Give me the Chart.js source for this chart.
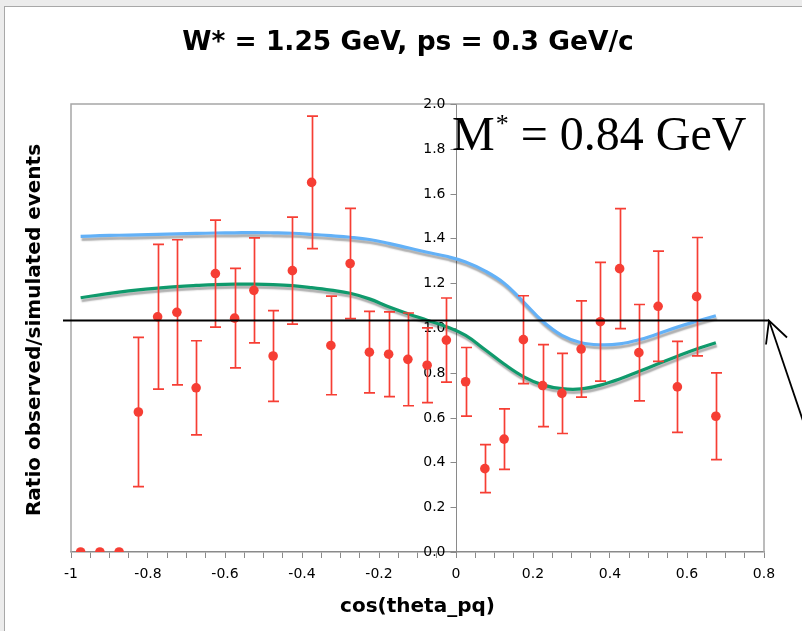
<!DOCTYPE html>
<html><head><meta charset="utf-8">
<script src="https://cdn.jsdelivr.net/npm/chart.js@4.4.1/dist/chart.umd.min.js"></script>
<style>
html,body{margin:0;padding:0;width:802px;height:631px;overflow:hidden;background:#ececec;}
#panel{position:absolute;left:4px;top:6px;width:900px;height:700px;background:#fff;border:1px solid #a8a8a8;}
#wrap{position:absolute;left:0;top:0;width:802px;height:631px;}
</style></head><body>
<div id="panel"></div>
<div id="wrap"><canvas id="c" width="802" height="631"></canvas></div>
<script>
// ---- data ----
const cosTheta = [-0.975,-0.925,-0.875,-0.825,-0.775,-0.725,-0.675,-0.625,-0.575,-0.525,-0.475,-0.425,-0.375,-0.325,-0.275,-0.225,-0.175,-0.125,-0.075,-0.025,0.025,0.075,0.125,0.175,0.225,0.275,0.325,0.375,0.425,0.475,0.525,0.575,0.625,0.675];
const ratio = [0,0,0,0.625,1.05,1.07,0.733,1.243,1.044,1.168,0.875,1.256,1.65,0.922,1.288,0.892,0.883,0.86,0.834,0.946,0.76,0.372,0.504,0.948,0.743,0.708,0.906,1.028,1.265,0.89,1.097,0.737,1.14,0.606];
const ratioErr = [0,0,0,0.333,0.323,0.324,0.21,0.239,0.222,0.234,0.203,0.239,0.296,0.22,0.246,0.182,0.189,0.207,0.167,0.188,0.153,0.107,0.135,0.196,0.183,0.179,0.215,0.265,0.268,0.215,0.246,0.203,0.264,0.194];
const modelBlue = [1.409,1.412,1.414,1.416,1.418,1.42,1.422,1.424,1.425,1.426,1.425,1.423,1.418,1.412,1.405,1.395,1.378,1.358,1.338,1.32,1.295,1.255,1.20,1.117,1.03,0.967,0.934,0.925,0.929,0.947,0.974,1.004,1.03,1.055];
const modelGreen = [1.135,1.148,1.16,1.17,1.178,1.185,1.19,1.194,1.196,1.196,1.194,1.189,1.18,1.169,1.155,1.13,1.095,1.064,1.035,1.006,0.967,0.904,0.839,0.783,0.746,0.729,0.728,0.745,0.772,0.806,0.84,0.874,0.906,0.934];
const xLabelValues = [-1,-0.8,-0.6,-0.4,-0.2,0,0.2,0.4,0.6,0.8];
const xTickLabels = ['-1','-0.8','-0.6','-0.4','-0.2','0','0.2','0.4','0.6','0.8'];
const yLabelValues = [0,0.2,0.4,0.6,0.8,1.0,1.2,1.4,1.6,1.8,2.0];
const yTickLabels = ['0.0','0.2','0.4','0.6','0.8','1.0','1.2','1.4','1.6','1.8','2.0'];
const titleText = 'W* = 1.25 GeV, ps = 0.3 GeV/c';
const yTitle = 'Ratio observed/simulated events';
const xTitle = 'cos(theta_pq)';
const refLineValue = 1.035;

const RED = 'rgb(246,62,52)';
const FONT = '"DejaVu Sans", Verdana, sans-serif';

function pts(ys){ return cosTheta.map((x,i)=>({x:x,y:ys[i]})); }

const errorBars = {
  id:'errorBars',
  beforeDatasetDraw(chart, args){
    if(args.index!==0) return;
    const {ctx, scales:{x,y}} = chart;
    ctx.save();
    ctx.strokeStyle = RED; ctx.lineWidth = 1.7;
    cosTheta.forEach((cx,i)=>{
      const e = ratioErr[i]; if(!e) return;
      const px = Math.round(x.getPixelForValue(cx))+0.5;
      const y1 = y.getPixelForValue(ratio[i]+e), y2 = y.getPixelForValue(ratio[i]-e);
      ctx.beginPath();
      ctx.moveTo(px,y1); ctx.lineTo(px,y2);
      ctx.moveTo(px-5.5,y1); ctx.lineTo(px+5.5,y1);
      ctx.moveTo(px-5.5,y2); ctx.lineTo(px+5.5,y2);
      ctx.stroke();
    });
    ctx.restore();
  }
};
const shadow = {
  id:'shadow',
  beforeDatasetDraw(chart,args){
    if(args.index===0) return;
    const ctx=chart.ctx; ctx.save();
    ctx.shadowColor='rgba(0,0,0,0.32)'; ctx.shadowOffsetX=1; ctx.shadowOffsetY=3; ctx.shadowBlur=1.5;
  },
  afterDatasetDraw(chart,args){ if(args.index===0) return; chart.ctx.restore(); }
};
const frame = {
  id:'frame',
  beforeDatasetsDraw(chart){
    const {ctx, chartArea:a, scales:{x,y}} = chart;
    ctx.save(); ctx.strokeStyle='#a6a6a6'; ctx.lineWidth=1.5;
    ctx.beginPath();
    ctx.moveTo(a.left, a.bottom); ctx.lineTo(a.left, a.top); ctx.lineTo(a.right, a.top); ctx.lineTo(a.right, a.bottom);
    ctx.stroke();
    // y axis ticks and labels at x = 0
    const ax = Math.round(x.getPixelForValue(0))+0.5;
    ctx.strokeStyle='#8a8a8a'; ctx.lineWidth=1;
    ctx.fillStyle='#000'; ctx.font='14px '+FONT; ctx.textAlign='right'; ctx.textBaseline='middle';
    yLabelValues.forEach((v,i)=>{
      const py = Math.round(y.getPixelForValue(v))+0.5;
      ctx.beginPath(); ctx.moveTo(ax,py); ctx.lineTo(ax-6,py); ctx.stroke();
      ctx.fillText(yTickLabels[i], ax-11, py);
    });
    ctx.restore();
  }
};
const decorations = {
  id:'decorations',
  afterDraw(chart){
    const {ctx, chartArea:a, scales:{y}} = chart;
    ctx.save();
    // reference line with arrow
    const ly = Math.round(y.getPixelForValue(refLineValue))+0.5;
    ctx.strokeStyle='#000'; ctx.lineWidth=2;
    ctx.beginPath(); ctx.moveTo(a.left-8, ly); ctx.lineTo(a.right+5, ly); ctx.stroke();
    const tx=a.right+5;
    ctx.lineWidth=1.8;
    ctx.beginPath(); ctx.moveTo(tx,ly); ctx.lineTo(tx+40, ly+118); ctx.stroke();
    ctx.beginPath(); ctx.moveTo(tx-3,ly+24); ctx.lineTo(tx,ly); ctx.lineTo(tx+18,ly+17); ctx.stroke();
    // title
    ctx.fillStyle='#000'; ctx.textAlign='center'; ctx.textBaseline='middle';
    ctx.font='bold 26.5px '+FONT;
    ctx.fillText(titleText, 408, 43);
    // y title
    ctx.save(); ctx.translate(35, 330); ctx.rotate(-Math.PI/2);
    ctx.font='bold 20px '+FONT; ctx.fillText(yTitle, 0, 0); ctx.restore();
    // M* label
    ctx.textAlign='left'; ctx.textBaseline='alphabetic';
    ctx.font='48px "Liberation Serif", "Times New Roman", serif';
    let xx=452, by=150;
    ctx.fillText('M', xx, by); xx += ctx.measureText('M').width+1;
    ctx.font='26px "Liberation Serif", serif';
    ctx.fillText('*', xx, by-18); xx += ctx.measureText('*').width;
    ctx.font='48px "Liberation Serif", "Times New Roman", serif';
    ctx.fillText(' = 0.84 GeV', xx, by);
    ctx.restore();
  }
};

new Chart(document.getElementById('c'), {
  type:'scatter',
  data:{ datasets:[
    {label:'data', data:pts(ratio), pointRadius:4.8, pointHoverRadius:4.8, backgroundColor:RED, borderWidth:0, showLine:false},
    {label:'blue', data:pts(modelBlue), showLine:true, pointRadius:0, borderColor:'#63b1f7', borderWidth:3.2, tension:0.4, fill:false},
    {label:'green', data:pts(modelGreen), showLine:true, pointRadius:0, borderColor:'#0f9a6c', borderWidth:3.2, tension:0.4, fill:false}
  ]},
  options:{
    responsive:false, animation:false, devicePixelRatio:1,
    layout:{padding:{left:71, right:38, top:104, bottom:0}},
    plugins:{legend:{display:false}, tooltip:{enabled:false}, title:{display:false}},
    scales:{
      x:{type:'linear', min:-1, max:0.8, position:'bottom',
         afterFit(s){ s.height = 79; },
         afterBuildTicks(s){ s.ticks = []; for(let k=0;k<=36;k++){ s.ticks.push({value: Math.round((-1+k*0.05)*1000)/1000}); } },
         ticks:{autoSkip:false, maxRotation:0, padding:8, color:'#000', font:{family:FONT, size:14},
           callback(v){ const i = xLabelValues.findIndex(t=>Math.abs(t-v)<1e-6); return i>=0 ? xTickLabels[i] : ''; }},
         grid:{drawOnChartArea:false, drawTicks:true, tickLength:6, color:'#8a8a8a'},
         border:{color:'#8a8a8a', width:1.5},
         title:{display:true, text:xTitle, color:'#000', font:{family:FONT, size:20, weight:'bold'}, padding:{top:2, bottom:12}}
      },
      y:{type:'linear', min:0, max:2, position:{x:0},
         ticks:{display:false},
         grid:{drawOnChartArea:false, drawTicks:false},
         border:{color:'#8a8a8a', width:1}
      }
    }
  },
  plugins:[frame, shadow, errorBars, decorations]
});
</script>
</body></html>
